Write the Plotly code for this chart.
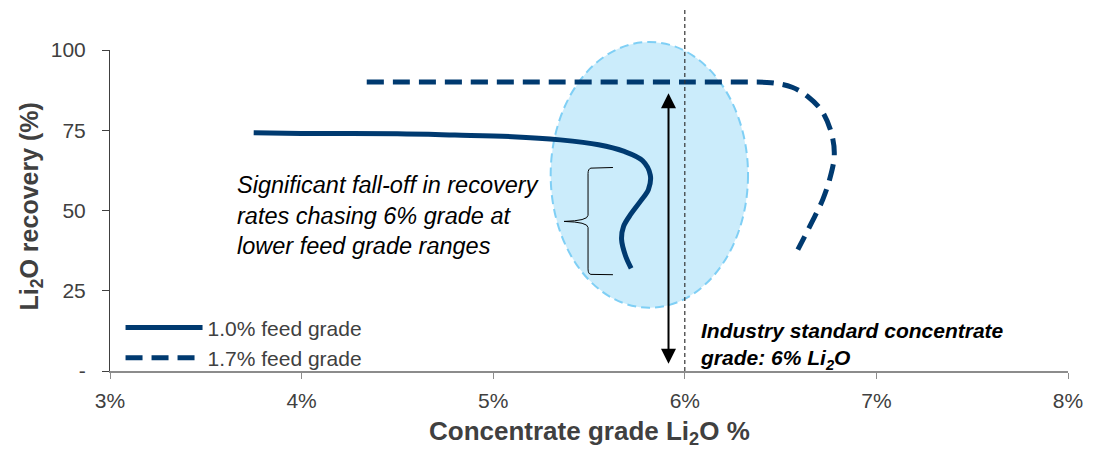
import plotly.graph_objects as go

# ---- data ----
feed10_x = [3.75, 4.0, 4.5, 4.8, 5.1, 5.35, 5.55, 5.68, 5.78, 5.82, 5.81, 5.77, 5.72, 5.68, 5.67, 5.69, 5.72]
feed10_y = [74.2, 74.0, 73.9, 73.5, 73.0, 72.0, 70.5, 68.5, 65.5, 61.0, 56.5, 53.0, 49.0, 45.0, 41.0, 36.0, 32.0]
feed17_x = [4.34, 5.0, 5.5, 6.0, 6.3, 6.45, 6.56, 6.64, 6.72, 6.77, 6.78, 6.76, 6.72, 6.66, 6.59]
feed17_y = [90.0, 90.0, 90.0, 90.0, 90.0, 89.8, 88.4, 85.6, 80.6, 73.0, 67.0, 60.6, 53.4, 46.0, 37.8]
series_names = ["1.0% feed grade", "1.7% feed grade"]
x_ticks = [3, 4, 5, 6, 7, 8]
x_tick_text = ["3%", "4%", "5%", "6%", "7%", "8%"]
y_ticks = [0, 25, 50, 75, 100]
y_tick_text = ["-", "25", "50", "75", "100"]
x_title = "<b>Concentrate grade Li<sub>2</sub>O %</b>"
y_title = "<b>Li<sub>2</sub>O recovery (%)</b>"
industry_grade = 6.0
ellipse_x = [5.30, 6.33]
ellipse_y = [19.7, 102.5]
arrow_x = 5.915
arrow_y = [1.8, 86.5]

X_RANGE = [3, 8]
Y_RANGE = [0, 100]
NAVY = "#003A70"
GREY = "#404040"
FONT = "Liberation Sans, Arial, sans-serif"


def px_x(v):
    return (v - X_RANGE[0]) / (X_RANGE[1] - X_RANGE[0])


def px_y(v):
    return (v - Y_RANGE[0]) / (Y_RANGE[1] - Y_RANGE[0])


fig = go.Figure()
fig.add_trace(go.Scatter(x=feed10_x, y=feed10_y, mode="lines", name=series_names[0],
                         line=dict(color=NAVY, width=5, shape="spline", smoothing=1.0)))
fig.add_trace(go.Scatter(x=feed17_x, y=feed17_y, mode="lines", name=series_names[1],
                         line=dict(color=NAVY, width=5, dash="17px,9px", shape="spline", smoothing=1.0)))

shapes = [
    # highlighted ellipse
    dict(type="circle", xref="paper", yref="paper",
         x0=px_x(ellipse_x[0]), x1=px_x(ellipse_x[1]),
         y0=px_y(ellipse_y[0]), y1=px_y(ellipse_y[1]),
         fillcolor="rgba(160,220,248,0.55)", line=dict(color="#7FCFF5", width=2, dash="9px,5px"),
         layer="below"),
    # industry standard dashed vertical line
    dict(type="line", xref="x", yref="paper", x0=industry_grade, x1=industry_grade,
         y0=0, y1=1.13, line=dict(color="#333333", width=1.2, dash="4px,3px")),
    # curly brace
    dict(type="path", xref="x", yref="y",
         path="M 5.625 63.4 L 5.51 63.2 Q 5.495 63.0 5.495 61.5 L 5.495 48.5 "
              "Q 5.495 46.8 5.37 46.6 Q 5.495 46.4 5.495 44.7 L 5.495 31.8 "
              "Q 5.495 30.2 5.51 30.1 L 5.625 30.0",
         line=dict(color="#000000", width=1)),
]

annotations = [
    dict(x=arrow_x, y=arrow_y[1], ax=arrow_x, ay=arrow_y[0], xref="x", yref="y",
         axref="x", ayref="y", showarrow=True, arrowhead=2, arrowsize=1.5, arrowwidth=2,
         arrowside="end+start", arrowcolor="#000000", text=""),
    dict(x=3.65, y=48.3, xref="x", yref="y", xanchor="left", yanchor="middle", align="left",
         showarrow=False,
         text="<i>Significant fall-off in recovery<br>rates chasing 6% grade at<br>lower feed grade ranges</i>",
         font=dict(family=FONT, size=23.5, color="#000000")),
    dict(x=6.07, y=7.8, xref="x", yref="y", xanchor="left", yanchor="middle", align="left",
         showarrow=False,
         text="<b><i>Industry standard concentrate<br>grade: 6% Li<sub>2</sub>O</i></b>",
         font=dict(family=FONT, size=21, color="#000000")),
    # axis titles
    dict(x=0.5, y=0, xref="paper", yref="paper", xanchor="center", yanchor="middle",
         yshift=-61, showarrow=False, text=x_title,
         font=dict(family=FONT, size=26, color=GREY)),
    dict(x=0, y=0.5, xref="paper", yref="paper", xanchor="center", yanchor="middle",
         xshift=-80, yshift=4, textangle=-90, showarrow=False, text=y_title,
         font=dict(family=FONT, size=25, color=GREY)),
]

fig.update_layout(
    width=1095, height=450,
    margin=dict(l=110, r=21, t=50, b=79),
    paper_bgcolor="white", plot_bgcolor="white",
    font=dict(family=FONT, color=GREY, size=21),
    shapes=shapes, annotations=annotations,
    showlegend=True,
    legend=dict(x=0.011, y=0.088, xanchor="left", yanchor="middle", bgcolor="rgba(0,0,0,0)",
                font=dict(family=FONT, size=21, color=GREY), itemwidth=77,
                tracegroupgap=0),
    xaxis=dict(range=X_RANGE, tickvals=x_ticks, ticktext=x_tick_text, showgrid=False,
               zeroline=False, showline=True, linecolor="#8C8C8C", linewidth=1.5,
               ticks="outside", ticklen=6, tickcolor="#8C8C8C", ticklabelstandoff=4,
               tickfont=dict(size=21, color=GREY)),
    yaxis=dict(range=Y_RANGE, tickvals=y_ticks, ticktext=y_tick_text, showgrid=False,
               zeroline=False, showline=True, linecolor="#404040", linewidth=1,
               ticks="outside", ticklen=7, tickcolor="#404040", ticklabelstandoff=12,
               tickfont=dict(size=21, color=GREY)),
)

fig.write_html("out.html", config={"displayModeBar": False},
               post_script="document.body.style.margin='0px';")
